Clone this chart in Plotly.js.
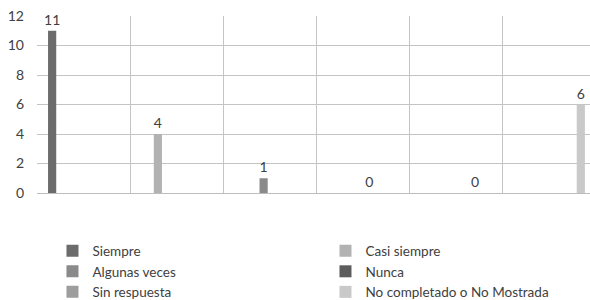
<!DOCTYPE html>
<html>
<head>
<meta charset="utf-8">
<script src="https://cdn.plot.ly/plotly-3.0.1.min.js"></script>
<style>html,body{margin:0;padding:0;background:#fff;}#chart{width:590px;height:300px;}</style>
</head>
<body>
<div id="chart"></div>
<script>
// Categories (one group per answer) and series values
const categories = ["Siempre", "Casi siempre", "Algunas veces", "Nunca", "Sin respuesta", "No completado o No Mostrada"];
const seriesNames = ["Siempre", "Casi siempre", "Algunas veces", "Nunca", "Sin respuesta", "No completado o No Mostrada"];
const seriesValues = [11, 4, 1, 0, 0, 6];
const seriesColors = ["#6b6b6b", "#b2b2b2", "#8a8a8a", "#5c5c5c", "#9d9d9d", "#c9c9c9"];
const yTicks = [0, 2, 4, 6, 8, 10, 12];

const FONT = "Lato, 'Liberation Sans', sans-serif";

const traces = seriesNames.map((name, i) => ({
  type: "bar",
  name: name,
  x: [categories[i]],
  y: [seriesValues[i]],
  offsetgroup: String(i),
  alignmentgroup: "all",
  text: [String(seriesValues[i])],
  textposition: "outside",
  constraintext: "none",
  textfont: {family: FONT, size: 14, color: "#404040"},
  cliponaxis: false,
  marker: {color: seriesColors[i]},
  hoverinfo: "x+y+name"
}));

const layout = {
  width: 590,
  height: 300,
  margin: {l: 37, r: 0, t: 16, b: 107, pad: 0, autoexpand: false},
  paper_bgcolor: "#ffffff",
  plot_bgcolor: "#ffffff",
  font: {family: FONT, size: 14, color: "#404040"},
  barmode: "group",
  bargap: 0.19,
  bargroupgap: 0.35,
  showlegend: true,
  legend: {
    orientation: "h",
    x: 0.028,
    xanchor: "left",
    y: -0.24,
    yanchor: "top",
    entrywidth: 228,
    entrywidthmode: "pixels",
    traceorder: "normal",
    font: {family: FONT, size: 13.5, color: "#404040"},
    tracegroupgap: 0,
    itemwidth: 30
  },
  xaxis: {
    type: "category",
    categoryorder: "array",
    categoryarray: categories,
    range: [-0.5, 5.436],
    showticklabels: false,
    ticks: "",
    tickson: "boundaries",
    showgrid: true,
    gridcolor: "#c4c4c4",
    gridwidth: 1,
    showline: true,
    linecolor: "#bdbdbd",
    linewidth: 1,
    zeroline: false,
    fixedrange: true
  },
  yaxis: {
    range: [0, 12],
    tickmode: "array",
    tickvals: yTicks,
    ticktext: yTicks.map(String),
    showgrid: true,
    gridcolor: "#c4c4c4",
    gridwidth: 1,
    zeroline: false,
    showline: false,
    ticks: "",
    ticklabelstandoff: 12,
    tickfont: {family: FONT, size: 14, color: "#404040"},
    fixedrange: true
  }
};

Plotly.newPlot("chart", traces, layout, {displayModeBar: false, staticPlot: true});
</script>
</body>
</html>
